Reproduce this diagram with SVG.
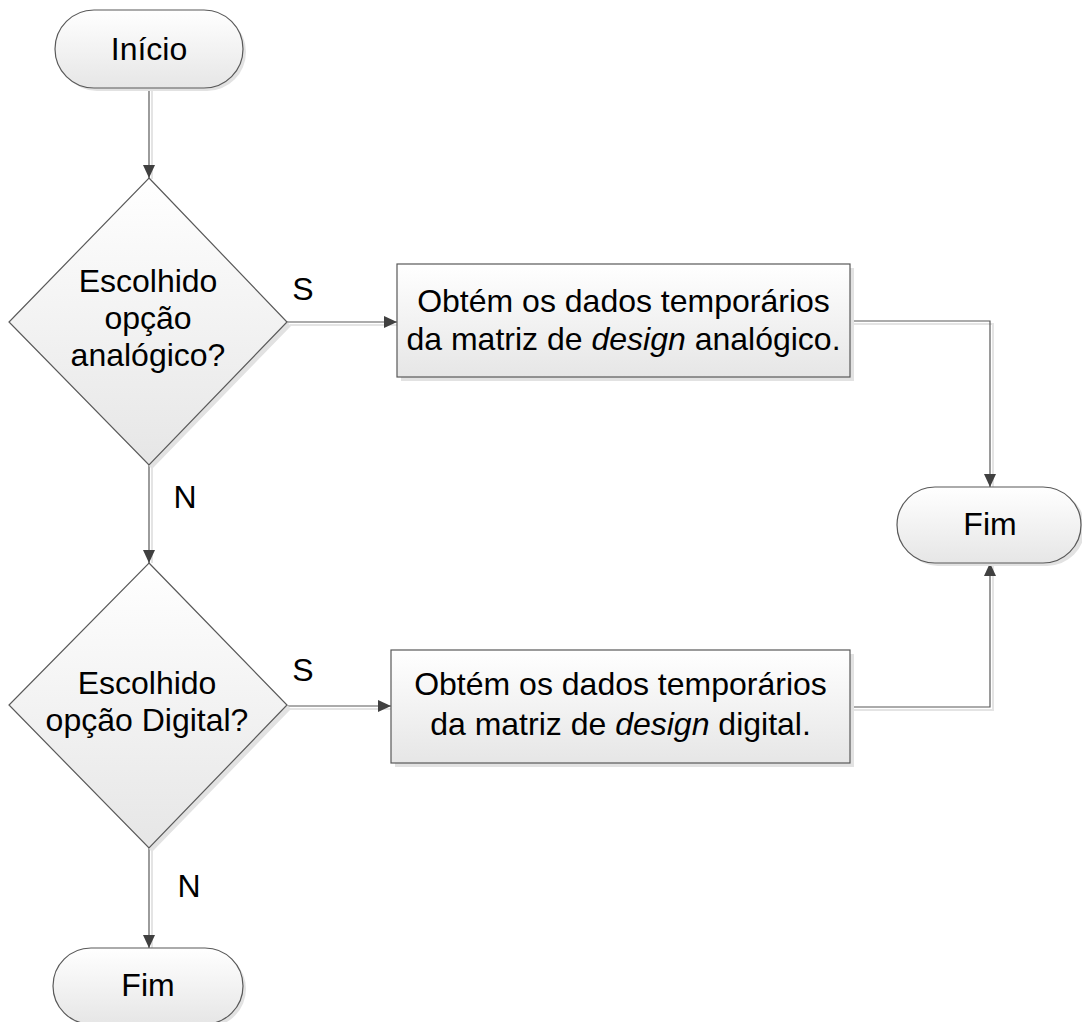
<svg xmlns="http://www.w3.org/2000/svg" width="1082" height="1022" viewBox="0 0 1082 1022">
  <defs>
    <linearGradient id="shapeFill" x1="0" y1="0" x2="0" y2="1">
      <stop offset="0" stop-color="#ffffff"/>
      <stop offset="1" stop-color="#e6e6e6"/>
    </linearGradient>
    <marker id="arrow" markerWidth="13" markerHeight="13" refX="13" refY="6.5" orient="auto" markerUnits="userSpaceOnUse">
      <path d="M0,0.5 L13,6.5 L0,12.5 Z" fill="#404040"/>
    </marker>
    <style>
      .shape { fill: url(#shapeFill); stroke: #595959; stroke-width: 1.2; }
      .shadow { fill: #e2e2e2; stroke: none; }
      .label { font-family: "Liberation Sans", Arial, sans-serif; font-size: 32px; fill: #000000; text-anchor: middle; }
      .edge { fill: none; stroke: #595959; stroke-width: 1.2; }
      .edge-shadow { fill: none; stroke: #e4e4e4; stroke-width: 2; }
      .it { font-style: italic; }
    </style>
  </defs>

  <!-- connectors -->
  <g id="connectors">
    <g id="connector-shadows">
      <path class="edge-shadow" d="M152,91 V179"/>
      <path class="edge-shadow" d="M290,325 H397"/>
      <path class="edge-shadow" d="M853,324 H993 V487"/>
      <path class="edge-shadow" d="M152,468 V563"/>
      <path class="edge-shadow" d="M290,709 H391"/>
      <path class="edge-shadow" d="M853,710 H993 V566"/>
      <path class="edge-shadow" d="M152,851 V948"/>
    </g>
    <path class="edge" d="M149,88 V178" marker-end="url(#arrow)"/>
    <path class="edge" d="M287,322 H397" marker-end="url(#arrow)"/>
    <path class="edge" d="M850,321 H990 V487" marker-end="url(#arrow)"/>
    <path class="edge" d="M149,465 V563" marker-end="url(#arrow)"/>
    <path class="edge" d="M287,706 H391" marker-end="url(#arrow)"/>
    <path class="edge" d="M850,707 H990 V563" marker-end="url(#arrow)"/>
    <path class="edge" d="M149,848 V948" marker-end="url(#arrow)"/>
    <text class="label" x="303" y="300">S</text>
    <text class="label" x="303" y="681">S</text>
    <text class="label" x="185" y="508">N</text>
    <text class="label" x="189" y="897">N</text>
  </g>

  <!-- start terminator -->
  <g id="inicio">
    <rect class="shadow" x="58" y="13" width="188" height="78" rx="39"/>
    <rect class="shape" x="55" y="10" width="188" height="78" rx="39"/>
    <text class="label" x="149" y="60">Início</text>
  </g>

  <!-- decision: analog option -->
  <g id="decisao-analogico">
    <polygon class="shadow" points="152,182 291,326 152,469 13,326"/>
    <polygon class="shape" points="149,178 287,322 149,465 9,322"/>
    <text class="label" x="148" y="292">Escolhido</text>
    <text class="label" x="148" y="329">opção</text>
    <text class="label" x="148" y="366">analógico?</text>
  </g>

  <!-- process: analog design matrix -->
  <g id="processo-analogico">
    <rect class="shadow" x="401" y="268" width="453" height="113"/>
    <rect class="shape" x="397" y="264" width="453" height="113"/>
    <text class="label" x="623.5" y="312">Obtém os dados temporários</text>
    <text class="label" x="623.5" y="350">da matriz de <tspan class="it">design</tspan> analógico.</text>
  </g>

  <!-- end terminator (right) -->
  <g id="fim-direita">
    <rect class="shadow" x="900" y="490" width="185" height="76" rx="38"/>
    <rect class="shape" x="897" y="487" width="184" height="76" rx="38"/>
    <text class="label" x="990" y="535">Fim</text>
  </g>

  <!-- decision: digital option -->
  <g id="decisao-digital">
    <polygon class="shadow" points="152,567 291,709 152,852 13,709"/>
    <polygon class="shape" points="149,563 287,705 149,848 9,705"/>
    <text class="label" x="147" y="694">Escolhido</text>
    <text class="label" x="147" y="731">opção Digital?</text>
  </g>

  <!-- process: digital design matrix -->
  <g id="processo-digital">
    <rect class="shadow" x="395" y="654" width="459" height="113"/>
    <rect class="shape" x="391" y="650" width="459" height="113"/>
    <text class="label" x="620.5" y="695">Obtém os dados temporários</text>
    <text class="label" x="620.5" y="735">da matriz de <tspan class="it">design</tspan> digital.</text>
  </g>

  <!-- end terminator (bottom) -->
  <g id="fim-baixo">
    <rect class="shadow" x="56" y="951" width="190" height="76" rx="38"/>
    <rect class="shape" x="53" y="948" width="190" height="76" rx="38"/>
    <text class="label" x="148" y="996">Fim</text>
  </g>
</svg>
